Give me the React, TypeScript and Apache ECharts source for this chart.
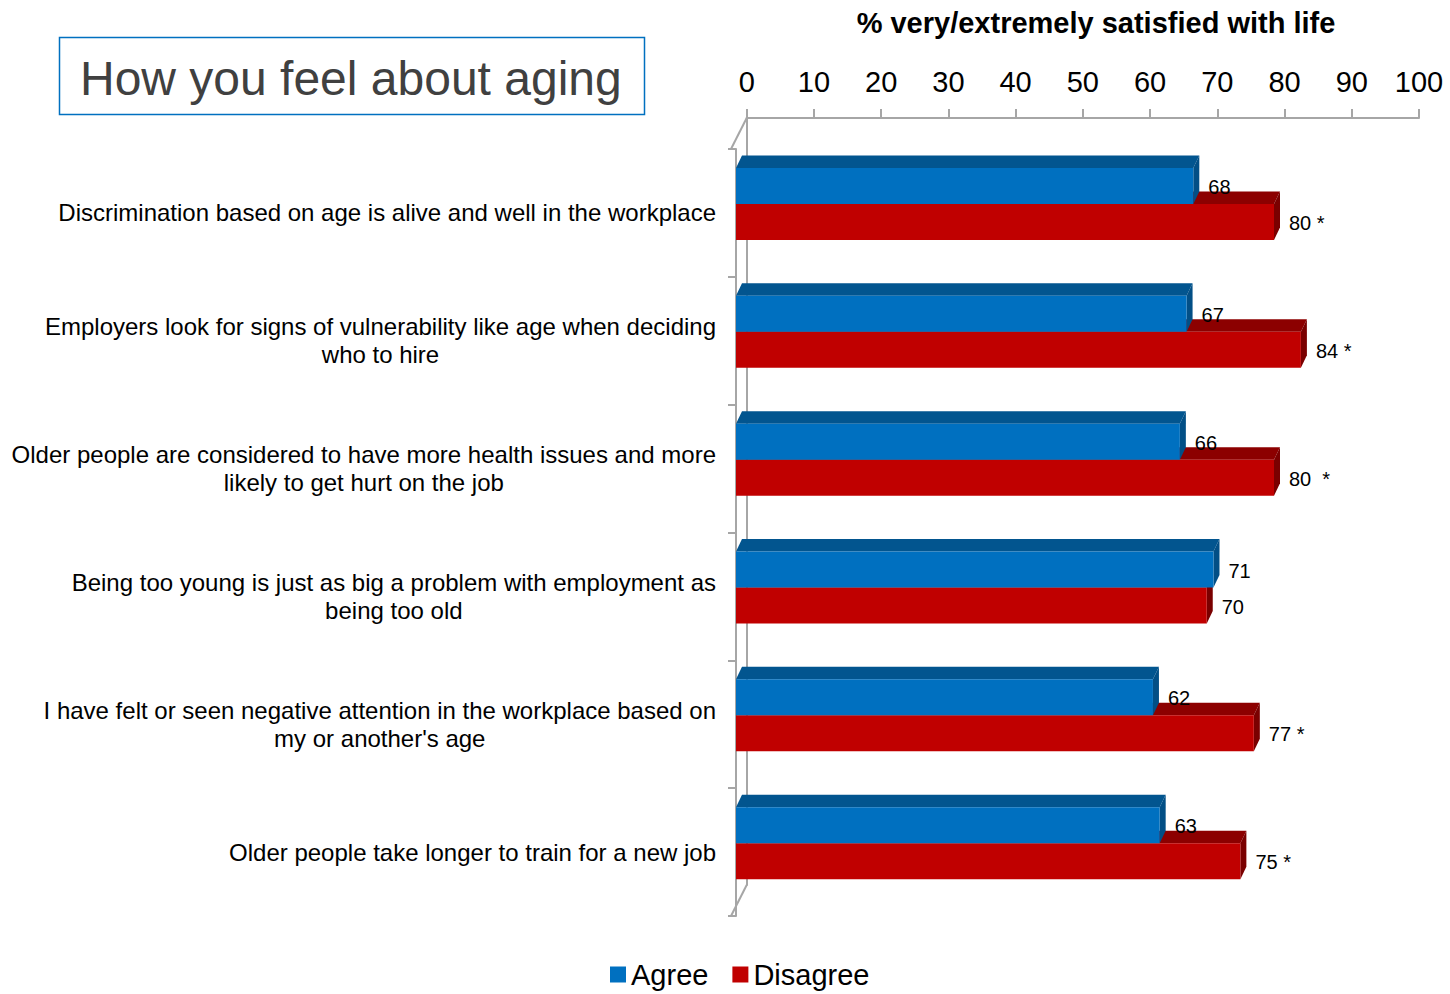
import React, { useEffect, useRef } from "react";
import * as echarts from "echarts";

const categories = [
  "Discrimination based on age is alive and well in the workplace",
  "Employers look for signs of vulnerability like age when deciding\nwho to hire",
  "Older people are considered to have more health issues and more\nlikely to get hurt on the job",
  "Being too young is just as big a problem with employment as\nbeing too old",
  "I have felt or seen negative attention in the workplace based on\nmy or another's age",
  "Older people take longer to train for a new job",
];
const agree = [68, 67, 66, 71, 62, 63];
const disagree = [80, 84, 80, 70, 77, 75];
const agreeLabels = ["68", "67", "66", "71", "62", "63"];
const disagreeLabels = ["80 *", "84 *", "80  *", "70", "77 *", "75 *"];
const xMin = 0;
const xMax = 100;
const xInterval = 10;

const FONT = '"Liberation Sans", Arial, sans-serif';
const GRAY = "#A6A6A6";

type Colors = { front: string; top: string; side: string };
const agreeColors: Colors = { front: "#0070C0", top: "#02558F", side: "#024F86" };
const disagreeColors: Colors = { front: "#C00000", top: "#8C0000", side: "#7A0000" };

function make3DBar(slot: number, colors: Colors, labels: string[]) {
  return (params: any, api: any) => {
    const v = api.value(0);
    const c = api.value(1);
    const p0 = api.coord([0, c]);
    const p1 = api.coord([v, c]);
    const band = api.size([0, 1])[1];
    const h = band * 0.2817;
    const top = p0[1] - band / 2 + band * 0.1487 + slot * h;
    const dx = 6;
    const dy = 12.5;
    const x0 = p0[0];
    const x1 = p1[0];
    return {
      type: "group",
      children: [
        {
          type: "polygon",
          shape: { points: [[x0, top], [x0 + dx, top - dy], [x1 + dx, top - dy], [x1, top]] },
          style: { fill: colors.top },
        },
        {
          type: "polygon",
          shape: { points: [[x1, top], [x1 + dx, top - dy], [x1 + dx, top + h - dy], [x1, top + h]] },
          style: { fill: colors.side },
        },
        {
          type: "rect",
          shape: { x: x0, y: top, width: x1 - x0, height: h },
          style: { fill: colors.front },
        },
        {
          type: "text",
          x: x1 + dx + 9,
          y: top + h / 2 + 1,
          style: {
            text: labels[params.dataIndex],
            fill: "#000",
            fontSize: 20,
            fontFamily: FONT,
            align: "left",
            verticalAlign: "middle",
          },
        },
      ],
    };
  };
}

export default function App() {
  const ref = useRef<HTMLDivElement>(null);
  useEffect(() => {
    if (!ref.current) return;
    const chart = echarts.init(ref.current, undefined, { renderer: "svg" });
    const rich: any = {
      c: { align: "center", fontSize: 24, lineHeight: 28, fontFamily: FONT, color: "#000" },
    };
    chart.setOption({
      animation: false,
      backgroundColor: "#fff",
      textStyle: { fontFamily: FONT },
      grid: [
        { left: 736, top: 149, width: 672.5, height: 767 },
        { left: 746.7, top: 118, width: 672.3, height: 767 },
      ],
      xAxis: [
        { type: "value", gridIndex: 0, min: xMin, max: xMax, interval: xInterval, show: false },
        {
          type: "value",
          gridIndex: 1,
          position: "top",
          min: xMin,
          max: xMax,
          interval: xInterval,
          axisLine: { show: true, onZero: false, lineStyle: { color: GRAY, width: 2 } },
          axisTick: { show: true, length: 9, lineStyle: { color: GRAY, width: 2 } },
          axisLabel: { fontSize: 29, color: "#000", margin: 22, fontFamily: FONT },
          splitLine: { show: false },
        },
      ],
      yAxis: [
        {
          type: "category",
          gridIndex: 0,
          inverse: true,
          data: categories,
          offset: 5,
          axisLine: { show: true, lineStyle: { color: GRAY, width: 2 } },
          axisTick: { show: true, length: 8, lineStyle: { color: GRAY, width: 2 } },
          axisLabel: {
            margin: 15,
            formatter: (val: string) =>
              val
                .split("\n")
                .map((l) => `{c|${l}}`)
                .join("\n"),
            rich,
          },
        },
        {
          type: "value",
          gridIndex: 1,
          min: 0,
          max: 1,
          axisLine: { show: true, onZero: false, lineStyle: { color: GRAY, width: 2 } },
          axisTick: { show: false },
          axisLabel: { show: false },
          splitLine: { show: false },
        },
      ],
      legend: {
        data: ["Agree", "Disagree"],
        left: 605,
        top: 955,
        icon: "rect",
        itemWidth: 16,
        itemHeight: 16,
        itemGap: 24,
        textStyle: { fontSize: 29, color: "#000", fontFamily: FONT },
      },
      graphic: [
        {
          type: "rect",
          shape: { x: 59.5, y: 37.5, width: 585, height: 77 },
          style: { fill: "none", stroke: "#0070C0", lineWidth: 1.5 },
        },
        {
          type: "text",
          x: 80,
          y: 78,
          style: {
            text: "How you feel about aging",
            fill: "#404040",
            fontSize: 48,
            fontFamily: FONT,
            align: "left",
            verticalAlign: "middle",
          },
        },
        {
          type: "text",
          x: 1096,
          y: 23,
          style: {
            text: "% very/extremely satisfied with life",
            fill: "#000",
            fontSize: 29,
            fontWeight: "bold",
            fontFamily: FONT,
            align: "center",
            verticalAlign: "middle",
          },
        },
        {
          type: "line",
          shape: { x1: 746.7, y1: 118, x2: 731, y2: 149 },
          style: { stroke: GRAY, lineWidth: 2 },
        },
        {
          type: "line",
          shape: { x1: 746.7, y1: 885, x2: 731, y2: 916 },
          style: { stroke: GRAY, lineWidth: 2 },
        },
      ],
      series: [
        {
          name: "Agree",
          type: "custom",
          xAxisIndex: 0,
          yAxisIndex: 0,
          z: 3,
          itemStyle: { color: agreeColors.front },
          encode: { x: 0, y: 1 },
          data: agree.map((v, i) => [v, i]),
          renderItem: make3DBar(0, agreeColors, agreeLabels),
        },
        {
          name: "Disagree",
          type: "custom",
          xAxisIndex: 0,
          yAxisIndex: 0,
          z: 2,
          itemStyle: { color: disagreeColors.front },
          encode: { x: 0, y: 1 },
          data: disagree.map((v, i) => [v, i]),
          renderItem: make3DBar(1, disagreeColors, disagreeLabels),
        },
      ],
    });
    return () => chart.dispose();
  }, []);
  return (
    <div
      ref={ref}
      style={{ position: "absolute", left: 0, top: 0, width: 1450, height: 994 }}
    />
  );
}
